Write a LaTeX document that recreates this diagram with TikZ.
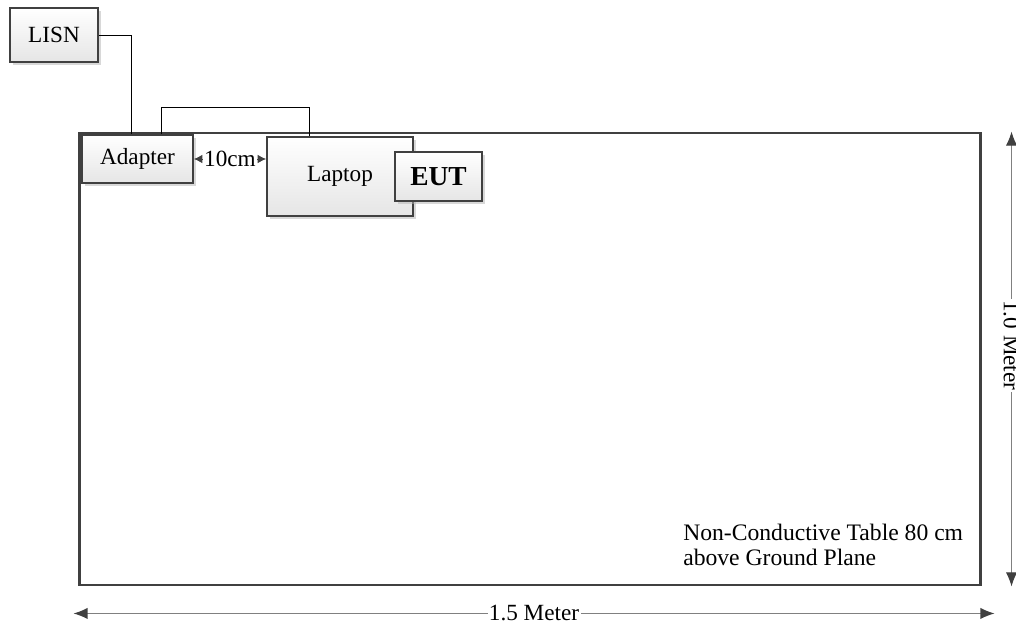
\documentclass[tikz,border=0pt]{standalone}
\usepackage{fontspec}
\setmainfont{Liberation Serif}
\usetikzlibrary{calc,shadows,arrows.meta}

\tikzset{
  unit/.style={draw=black!75, line width=1.2pt, top color=white, bottom color=black!10,
    drop shadow={shadow xshift=2pt, shadow yshift=-2pt, fill=black!30, opacity=0.5},
    inner sep=0pt, font=\fontsize{16.5}{19}\selectfont},
  cable/.style={draw=black, line width=0.6pt},
  dimline/.style={draw=black!50, line width=0.8pt,
    {Latex[length=10pt,width=8pt,color=black!75]}-{Latex[length=10pt,width=8pt,color=black!75]}},
  gap/.style={draw=black!75, line width=0.6pt,
    {Latex[length=6pt,width=6pt]}-{Latex[length=6pt,width=6pt]}},
  lbl/.style={fill=white, inner sep=1pt, font=\fontsize{16.5}{19}\selectfont},
}

\begin{document}
\begin{tikzpicture}[x=0.025cm, y=-0.025cm]
\useasboundingbox (0,0) rectangle (1016,625);

% table
\node[draw=black!75, line width=2pt, minimum width=22.5cm, minimum height=11.3cm,
  inner sep=0pt] (table) at (530,359) {};
\node[anchor=west, inner sep=0pt, align=left, font=\fontsize{16.8}{17.8}\selectfont]
  (tabletext) at (683,545) {Non-Conductive Table 80 cm\\above Ground Plane};

% units
\node[unit, minimum width=2.2cm, minimum height=1.35cm] (lisn) at (54,35) {LISN};
\node[unit, minimum width=2.775cm, minimum height=1.2cm] (adapter) at (137.5,159) {Adapter};
\node[unit, minimum width=3.65cm, minimum height=1.975cm] (laptop) at (340,176.5) {Laptop};
\node[unit, minimum width=2.175cm, minimum height=1.225cm, font=\fontsize{19.5}{22}\selectfont\bfseries]
  (eut) at (438.5,176.5) {EUT};

% cables
\coordinate (a1) at ($(adapter.north west)+(50,0)$);
\coordinate (a2) at ($(adapter.north west)+(80,0)$);
\coordinate (l1) at ($(laptop.north west)+(43,0)$);
\draw[cable] (lisn.east) -| (a1);
\draw[cable] (a2) -- ++(0,-27) -| (l1);

% 10cm
\draw[gap] (adapter.east) -- node[lbl] (gaptext) {10cm} (adapter.east -| laptop.west);

% dimensions
\coordinate (hl) at ($(table.south west)+(-5,27)$);
\coordinate (hr) at ($(table.south east)+(13,27)$);
\draw[dimline] (hl) -- node[lbl] (width) {1.5 Meter} (hr);
\coordinate (vt) at ($(table.north east)+(30,0)$);
\coordinate (vb) at ($(table.south east)+(30,0)$);
\draw[dimline] (vt) -- node[lbl, rotate=-90, pos=0.47] (depth) {1.0 Meter} (vb);
\end{tikzpicture}
\end{document}
